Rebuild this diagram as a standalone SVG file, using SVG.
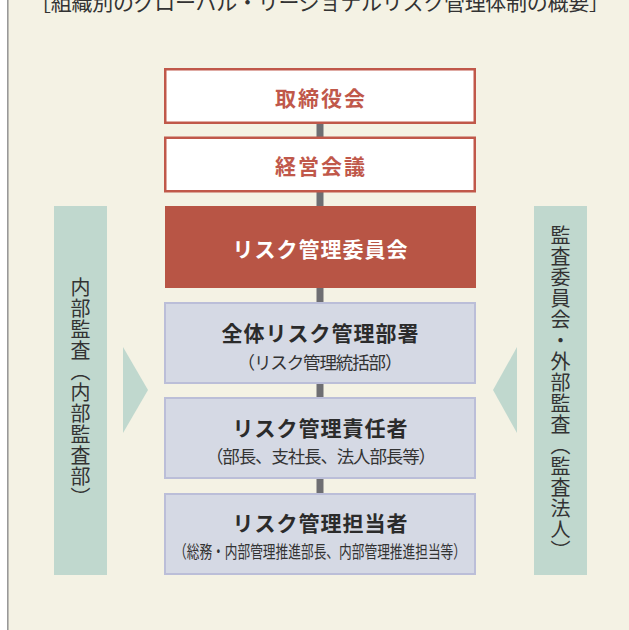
<svg xmlns="http://www.w3.org/2000/svg" width="629" height="630" viewBox="0 0 629 630">
<style>
text{font-family:"Noto Sans CJK JP","Noto Sans",sans-serif;}
.ttl{font-size:21px;fill:#333;}
.red{fill:#fff;stroke:#C0584A;stroke-width:2.5;}
.redt{font-size:21px;font-weight:bold;fill:#C0584A;letter-spacing:2px;}
.main{fill:#B85545;}
.maint{font-size:21px;font-weight:bold;fill:#fff;letter-spacing:1px;}
.gray{fill:#D5D9E4;stroke:#BBBED8;stroke-width:2;}
.grayt{font-size:21px;font-weight:bold;fill:#2b2b2b;letter-spacing:1px;}
.sub{font-size:17.5px;fill:#333;}
.side{fill:#C0D8CE;}
.vt{font-size:20px;fill:#333;writing-mode:vertical-rl;letter-spacing:1px;}
.conn{stroke:#6E6E72;stroke-width:7;}
</style>
<rect x="0" y="0" width="629" height="630" fill="#fff"/>
<rect x="8" y="0" width="621" height="630" fill="#F4F2E4"/>
<line x1="7.8" y1="0" x2="7.8" y2="630" stroke="#999" stroke-width="1.6"/>
<text class="ttl" x="30" y="10" textLength="580">［組織別のグローバル・リージョナルリスク管理体制の概要］</text>
<g id="connectors">
<line class="conn" x1="320" y1="123" x2="320" y2="138"/>
<line class="conn" x1="320" y1="191" x2="320" y2="207"/>
<line class="conn" x1="320" y1="287" x2="320" y2="303"/>
<line class="conn" x1="320" y1="383" x2="320" y2="398"/>
<line class="conn" x1="320" y1="478" x2="320" y2="494"/>
</g>
<g id="node-board">
<rect class="red" x="165.25" y="69.25" width="309.5" height="53.5"/>
<text class="redt" x="321" y="97" text-anchor="middle" dominant-baseline="central">取締役会</text>
</g>
<g id="node-exec">
<rect class="red" x="165.25" y="137.75" width="309.5" height="53.5"/>
<text class="redt" x="321" y="165" text-anchor="middle" dominant-baseline="central">経営会議</text>
</g>
<g id="node-committee">
<rect class="main" x="165" y="206" width="311" height="82"/>
<text class="maint" x="320.5" y="248" text-anchor="middle" dominant-baseline="central">リスク管理委員会</text>
</g>
<g id="node-dept">
<rect class="gray" x="165" y="303" width="310" height="80"/>
<text class="grayt" x="320.5" y="332" text-anchor="middle" dominant-baseline="central">全体リスク管理部署</text>
<text class="sub" x="320" y="361" text-anchor="middle" dominant-baseline="central" textLength="165">（リスク管理統括部）</text>
</g>
<g id="node-manager">
<rect class="gray" x="165" y="398" width="310" height="80"/>
<text class="grayt" x="320.5" y="427" text-anchor="middle" dominant-baseline="central">リスク管理責任者</text>
<text class="sub" x="321" y="455" text-anchor="middle" dominant-baseline="central" textLength="230">（部長、支社長、法人部長等）</text>
</g>
<g id="node-staff">
<rect class="gray" x="165" y="494" width="310" height="80"/>
<text class="grayt" x="320.5" y="521.5" text-anchor="middle" dominant-baseline="central">リスク管理担当者</text>
<text class="sub" x="320" y="550" text-anchor="middle" dominant-baseline="central" textLength="292" lengthAdjust="spacingAndGlyphs">（総務・内部管理推進部長、内部管理推進担当等）</text>
</g>
<g id="node-internal-audit">
<rect class="side" x="54" y="206" width="53" height="369"/>
<text class="vt" x="80.5" y="393" text-anchor="middle">内部監査（内部監査部）</text>
<polygon class="side" points="123,347 148,390 123,433"/>
</g>
<g id="node-external-audit">
<rect class="side" x="534" y="206" width="53" height="369"/>
<text class="vt" x="560.5" y="393" text-anchor="middle">監査委員会・外部監査（監査法人）</text>
<polygon class="side" points="517,347 493,390 517,433"/>
</g>
</svg>
